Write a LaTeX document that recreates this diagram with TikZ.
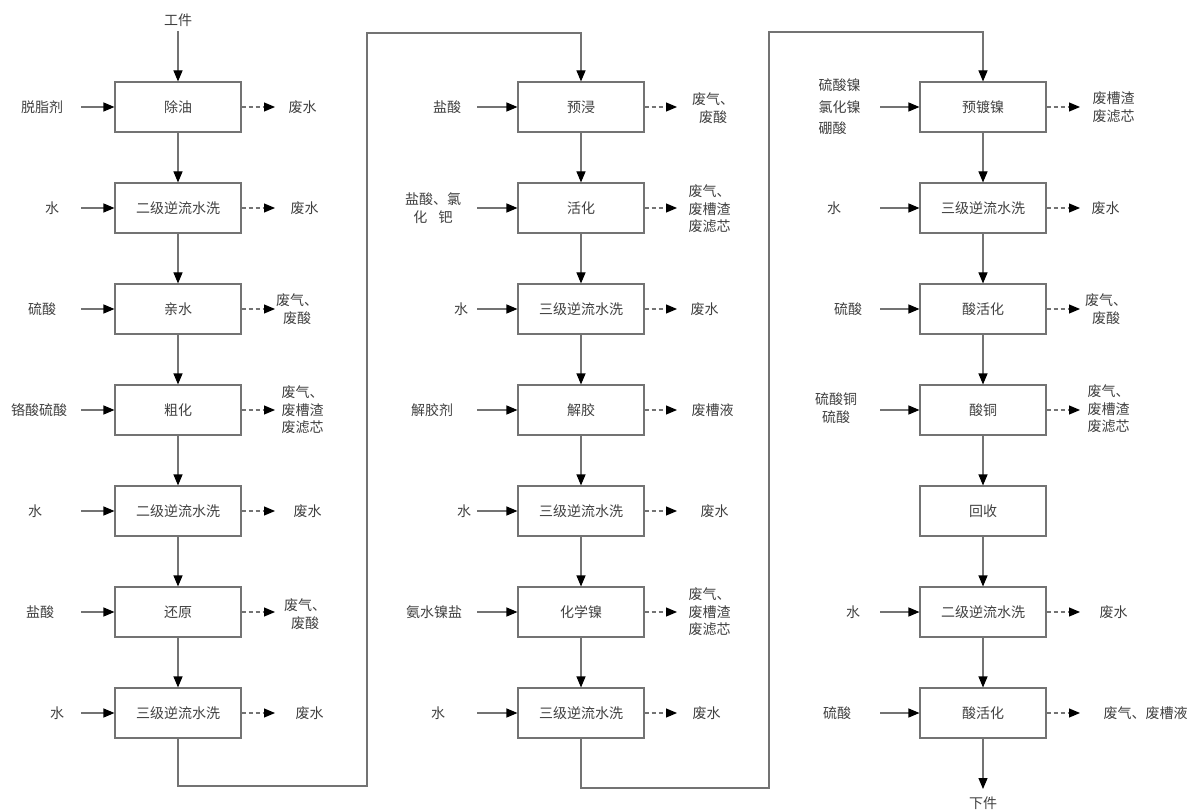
\documentclass[tikz,border=0pt]{standalone}
\usepackage{fontspec}
\setmainfont{Noto Sans CJK SC}
\usetikzlibrary{arrows.meta}
\begin{document}
\begin{tikzpicture}[x=1pt,y=-1pt,
  line width=1.1pt,
  every node/.style={font=\fontsize{14}{17.5}\selectfont, text=black!75},
  box/.style={draw=black!55, minimum width=126pt, minimum height=50pt, inner sep=0pt},
  flow/.style={draw=black!55, -{Triangle[length=11pt,width=9pt,color=black]}},
  waste/.style={flow, dash pattern=on 4pt off 3pt},
  lab/.style={inner sep=0pt, align=center},
  labl/.style={inner sep=0pt, align=left, anchor=west},
]
\useasboundingbox (0,0) rectangle (1188,810);

% ---------- column 1 ----------
\node[box] (b11) at (178,107) {除油};
\node[box] (b12) at (178,208) {二级逆流水洗};
\node[box] (b13) at (178,309) {亲水};
\node[box] (b14) at (178,410) {粗化};
\node[box] (b15) at (178,511) {二级逆流水洗};
\node[box] (b16) at (178,612) {还原};
\node[box] (b17) at (178,713) {三级逆流水洗};

% ---------- column 2 ----------
\node[box] (b21) at (581,107) {预浸};
\node[box] (b22) at (581,208) {活化};
\node[box] (b23) at (581,309) {三级逆流水洗};
\node[box] (b24) at (581,410) {解胶};
\node[box] (b25) at (581,511) {三级逆流水洗};
\node[box] (b26) at (581,612) {化学镍};
\node[box] (b27) at (581,713) {三级逆流水洗};

% ---------- column 3 ----------
\node[box] (b31) at (983,107) {预镀镍};
\node[box] (b32) at (983,208) {三级逆流水洗};
\node[box] (b33) at (983,309) {酸活化};
\node[box] (b34) at (983,410) {酸铜};
\node[box] (b35) at (983,511) {回收};
\node[box] (b36) at (983,612) {二级逆流水洗};
\node[box] (b37) at (983,713) {酸活化};

% ---------- vertical flow ----------
\foreach \c in {1,2,3}{
  \foreach \r [evaluate=\r as \n using int(\r+1)] in {1,...,6}{
    \draw[flow] (b\c\r.south) -- (b\c\n.north);
  }
}

% start / end
\node[lab] (start) at (178,20) {工件};
\coordinate (s0) at (178,31);
\draw[flow] (s0) -- (b11.north);
\node[lab] (end) at (983,803) {下件};
\coordinate (e0) at (983,789);
\draw[flow] (b37.south) -- (e0);

% links between columns
\coordinate (l1) at (178,786);
\coordinate (l2) at (367,786);
\coordinate (l3) at (367,33);
\coordinate (l4) at (581,33);
\draw[flow] (b17.south) -- (l1) -- (l2) -- (l3) -- (l4) -- (b21.north);
\coordinate (m1) at (581,788);
\coordinate (m2) at (769,788);
\coordinate (m3) at (769,32);
\coordinate (m4) at (983,32);
\draw[flow] (b27.south) -- (m1) -- (m2) -- (m3) -- (m4) -- (b31.north);

% ---------- inputs column 1 ----------
\node[lab] (i11) at (42,107) {脱脂剂};
\node[lab] (i12) at (52,208) {水};
\node[lab] (i13) at (42,309) {硫酸};
\node[lab] (i14) at (39,410) {铬酸硫酸};
\node[lab] (i15) at (35,511) {水};
\node[lab] (i16) at (40,612) {盐酸};
\node[lab] (i17) at (57,713) {水};
\foreach \r in {1,...,7}{
  \coordinate (a1\r) at (81,{6+101*\r});
  \draw[flow] (a1\r) -- (b1\r.west);
}

% ---------- inputs column 2 ----------
\node[lab] (i21) at (447,107) {盐酸};
\node[lab] (i22) at (433,208) {盐酸、氯\\化\hspace{0.8em}钯};
\node[lab] (i23) at (461,309) {水};
\node[lab] (i24) at (432,410) {解胶剂};
\node[lab] (i25) at (464,511) {水};
\node[lab] (i26) at (434,612) {氨水镍盐};
\node[lab] (i27) at (438,713) {水};
\foreach \r in {1,...,7}{
  \coordinate (a2\r) at (477,{6+101*\r});
  \draw[flow] (a2\r) -- (b2\r.west);
}

% ---------- inputs column 3 ----------
\node[labl, font=\fontsize{14}{21.5}\selectfont] (i31) at (818,107) {硫酸镍\\氯化镍\\硼酸};
\node[lab] (i32) at (834,208) {水};
\node[lab] (i33) at (848,309) {硫酸};
\node[lab] (i34) at (836,408) {硫酸铜\\硫酸};
\node[lab] (i36) at (853,612) {水};
\node[lab] (i37) at (837,713) {硫酸};
\foreach \r in {1,2,3,4,6,7}{
  \coordinate (a3\r) at (880,{6+101*\r});
  \draw[flow] (a3\r) -- (b3\r.west);
}

% ---------- outputs column 1 ----------
\foreach \r in {1,...,7}{
  \coordinate (o1\r) at (275,{6+101*\r});
  \draw[waste] (b1\r.east) -- (o1\r);
}
\node[labl] (w11) at (288,107) {废水};
\node[labl] (w12) at (290,208) {废水};
\node[lab] (w13) at (297,309) {废气、\\废酸};
\node[labl] (w14) at (281,410) {废气、\\废槽渣\\废滤芯};
\node[labl] (w15) at (293,511) {废水};
\node[lab] (w16) at (305,614) {废气、\\废酸};
\node[labl] (w17) at (295,713) {废水};

% ---------- outputs column 2 ----------
\foreach \r in {1,...,7}{
  \coordinate (o2\r) at (677,{6+101*\r});
  \draw[waste] (b2\r.east) -- (o2\r);
}
\node[lab] (w21) at (713,108) {废气、\\废酸};
\node[labl] (w22) at (688,209) {废气、\\废槽渣\\废滤芯};
\node[labl] (w23) at (690,309) {废水};
\node[labl] (w24) at (691,410) {废槽液};
\node[labl] (w25) at (700,511) {废水};
\node[labl] (w26) at (688,612) {废气、\\废槽渣\\废滤芯};
\node[labl] (w27) at (692,713) {废水};

% ---------- outputs column 3 ----------
\foreach \r in {1,2,3,4,6,7}{
  \coordinate (o3\r) at (1080,{6+101*\r});
  \draw[waste] (b3\r.east) -- (o3\r);
}
\node[labl] (w31) at (1092,107) {废槽渣\\废滤芯};
\node[labl] (w32) at (1091,208) {废水};
\node[lab] (w33) at (1106,309) {废气、\\废酸};
\node[labl] (w34) at (1087,409) {废气、\\废槽渣\\废滤芯};
\node[labl] (w36) at (1099,612) {废水};
\node[labl] (w37) at (1103,713) {废气、废槽液};
\end{tikzpicture}
\end{document}
